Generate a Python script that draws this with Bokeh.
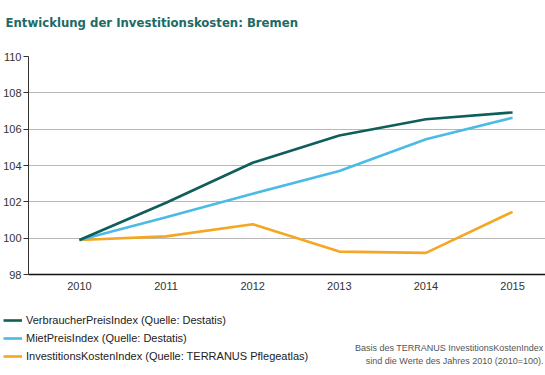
from bokeh.plotting import figure
from bokeh.models import Range1d, Label, Legend, LegendItem, FixedTicker
from bokeh.layouts import column, row
from bokeh.embed import file_html
from bokeh.resources import INLINE

years = [2010, 2011, 2012, 2013, 2014, 2015]
vpi = [99.9, 101.95, 104.15, 105.65, 106.55, 106.92]
mpi = [99.9, 101.15, 102.45, 103.7, 105.45, 106.63]
iki = [99.9, 100.1, 100.77, 99.26, 99.19, 101.45]
series_names = [
    "VerbraucherPreisIndex (Quelle: Destatis)",
    "MietPreisIndex (Quelle: Destatis)",
    "InvestitionsKostenIndex (Quelle: TERRANUS Pflegeatlas)",
]
y_ticks = [98, 100, 102, 104, 106, 108, 110]
title_text = "Entwicklung der Investitionskosten: Bremen"
note_lines = [
    "Basis des TERRANUS InvestitionsKostenIndex",
    "sind die Werte des Jahres 2010 (2010=100).",
]

colors = ["#0f5e5a", "#4bbbe6", "#f5a623"]
FONT = "Liberation Sans"
LW = 2.6
W, H0, H1, H2 = 545, 44, 256, 75


def strip(h):
    f = figure(width=W, height=h, output_backend="svg", toolbar_location=None,
               x_range=Range1d(0, 1), y_range=Range1d(0, 1),
               x_axis_location=None, y_axis_location=None,
               min_border=0, min_border_left=0, min_border_right=0,
               min_border_top=0, min_border_bottom=0)
    f.grid.visible = False
    f.outline_line_color = None
    return f


# title strip
p0 = strip(H0)
p0.add_layout(Label(x=5, y=22, x_units="screen", y_units="screen", text=title_text,
                    text_font="DejaVu Sans Condensed", text_font_style="bold",
                    text_font_size="13px", text_color="#1d6a66", text_baseline="middle"))

# main chart
p = figure(width=W, height=H1, output_backend="svg", toolbar_location=None,
           x_range=Range1d(2009.412, 2015.38), y_range=Range1d(98, 110),
           min_border_left=27, min_border_right=0, min_border_top=12,
           min_border_bottom=26)
p.outline_line_color = None

p.xaxis.ticker = FixedTicker(ticks=years)
p.xaxis.major_tick_line_color = None
p.xaxis.major_tick_out = 0
p.xaxis.minor_tick_line_color = None
p.xaxis.axis_line_color = "#111111"
p.xaxis.axis_line_width = 1.6
p.xaxis.major_label_text_font = FONT
p.xaxis.major_label_text_font_size = "11px"
p.xaxis.major_label_text_color = "#333333"
p.xaxis.major_label_standoff = 7

p.yaxis.ticker = FixedTicker(ticks=y_ticks)
p.yaxis.major_tick_out = 5
p.yaxis.major_tick_in = 0
p.yaxis.minor_tick_line_color = None
p.yaxis.axis_line_color = "#333333"
p.yaxis.major_tick_line_color = "#333333"
p.yaxis.major_label_text_font = FONT
p.yaxis.major_label_text_font_size = "11px"
p.yaxis.major_label_text_color = "#333333"
p.yaxis.major_label_standoff = 2

p.xgrid.grid_line_color = None
p.ygrid.ticker = FixedTicker(ticks=y_ticks)
p.ygrid.grid_line_color = "#b8b8b8"
p.ygrid.grid_line_width = 1.2

series = [vpi, mpi, iki]
for vals, c in zip(series[::-1], colors[::-1]):
    p.line(years, vals, line_color=c, line_width=LW)

# legend / note strip below the chart
p2 = strip(H2)
rs = [p2.line(years, vals, line_color=c, line_width=LW) for vals, c in zip(series, colors)]

legend = Legend(items=[LegendItem(label=n, renderers=[r]) for n, r in zip(series_names, rs)],
                location=(3, 13))
legend.border_line_color = None
legend.background_fill_alpha = 0
legend.padding = 0
legend.margin = 0
legend.spacing = 6
legend.glyph_width = 19
legend.glyph_height = 12
legend.label_height = 12
legend.label_standoff = 4
legend.label_text_font = FONT
legend.label_text_font_size = "11px"
legend.label_text_color = "#222222"
p2.add_layout(legend)

for i, t in enumerate(note_lines):
    p2.add_layout(Label(x=543, y=28 - 13 * i, x_units="screen", y_units="screen", text=t,
                        text_font=FONT, text_font_size="9px", text_color="#555555",
                        text_align="right", text_baseline="middle"))

layout = column(row(p0), row(p), row(p2), spacing=0)
open("out.html", "w").write(file_html(layout, INLINE))
